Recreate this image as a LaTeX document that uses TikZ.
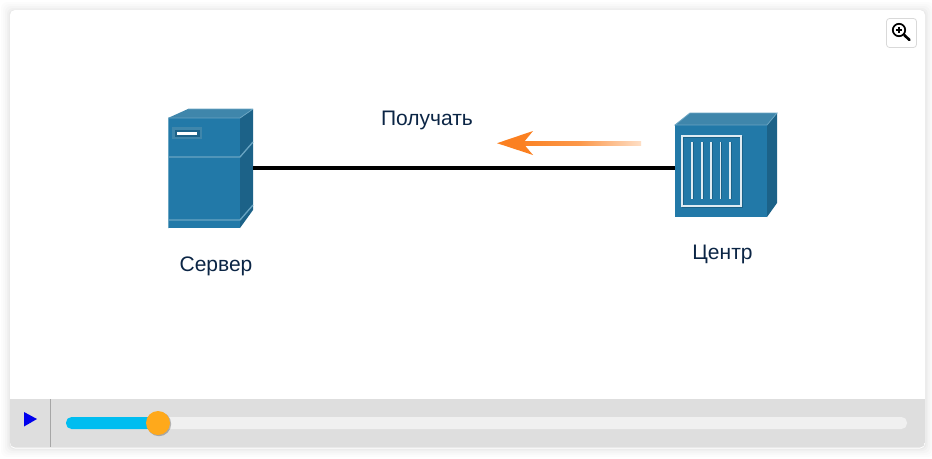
\documentclass[tikz,border=0pt]{standalone}
\usepackage{fontspec}
\setmainfont{Liberation Sans}
\usetikzlibrary{calc}
\definecolor{inkblue}{HTML}{0B2545}
\definecolor{front}{HTML}{2279A8}
\definecolor{topface}{HTML}{3F86AB}
\definecolor{sideface}{HTML}{1C6288}
\definecolor{edgelight}{HTML}{6AA5C3}
\definecolor{barbg}{HTML}{DEDEDE}
\definecolor{track}{HTML}{F0F0F0}
\definecolor{progress}{HTML}{00BDF0}
\definecolor{knob}{HTML}{FFA91B}
\definecolor{arroworange}{HTML}{FB8021}
\definecolor{arrowpale}{HTML}{FEDFC6}
\tikzset{
  x=1pt,y=-1pt,
  label text/.style={text=inkblue,font=\fontsize{21}{25}\selectfont,inner sep=0pt,anchor=center},
  link/.style={line width=3.6pt,black},
}
\begin{document}
\begin{tikzpicture}
\useasboundingbox (0,0) rectangle (932,458);
\fill[white] (0,0) rectangle (932,458);
% card shadow
\foreach \d/\o in {9/.01,7/.012,5/.015,3/.02,1.5/.022}{
  \fill[black,opacity=\o,rounded corners=6pt] ({10-\d},{10-\d+1}) rectangle ({925+\d},{448+\d});
}
% card
\fill[white,rounded corners=5pt] (10,10) rectangle (925,448.5);
\begin{scope}
\clip[rounded corners=5pt] (10,10) rectangle (925,447.5);
\fill[barbg] (10,399) rectangle (925,448);
\end{scope}
\draw[color=black!35,line width=1pt] (50.5,399) -- (50.5,447);
% zoom button
\draw[black!15,fill=white,line width=.8pt,rounded corners=3pt] (886.5,18.5) rectangle (916.5,47.5);
\draw[black,line width=1.7pt] (899,30) circle (6.2);
\draw[black,line width=2.6pt,line cap=round] (904.2,35) -- (909.5,40);
\draw[black,line width=1.6pt] (895.8,30) -- (902.2,30) (899,26.8) -- (899,33.2);
% server
\fill[topface] (168,118) -- (188,109) -- (253,109) -- (240,118) -- cycle;
\fill[sideface] (240,118) -- (253,109) -- (253,210) -- (240,228) -- cycle;
\fill[front] (168,118) rectangle (240,228);
\draw[edgelight,line width=.8pt] (168,118) -- (240,118) -- (253,109) (188,109) -- (253,109) (168.4,118) -- (168.4,228);
\draw[edgelight,line width=1.3pt] (168,157) -- (240,157) -- (253,142);
\draw[edgelight,line width=1.3pt] (168,220) -- (240,220) -- (253,205);
\fill[topface] (172,127) rectangle (202,139);
\fill[sideface] (175,130) rectangle (200,137);
\fill[white] (177,131.5) rectangle (197,135);
% hub
\fill[topface] (675,125) -- (690,113) -- (777,113) -- (767,125) -- cycle;
\fill[sideface] (767,125) -- (777,113) -- (777,203) -- (767,217) -- cycle;
\fill[front] (675,125) rectangle (767,217);
\draw[edgelight,line width=.8pt] (690,113) -- (777,113) -- (767,125) -- (675,125) -- (690,113);
\draw[sideface,line width=1.2pt] (683,137) rectangle (742,207);
\draw[white!85!front,line width=1.5pt] (682,136) rectangle (741,206);
\foreach \bx in {692,701.7,711,720.5,730}{
  \draw[sideface,line width=.8pt] (\bx+1.2,142) -- (\bx+1.2,199);
  \draw[white!85!front,line width=1.6pt] (\bx,142) -- (\bx,199);
}
% anchors and connector
\node[inner sep=0pt,minimum width=85pt,minimum height=119pt] (server) at (210.5,168) {};
\node[inner sep=0pt,minimum width=102pt,minimum height=104pt] (hub) at (726,165) {};
\coordinate (hubport) at (hub.west |- server.east);
\draw[link] (server.east) -- (hubport);
% labels
\node[label text] (srvlabel) at (216,266.5) {Сервер};
\node[label text] (hublabel) at (722.5,254.5) {Центр};
\node[label text] (recv) at (427,120.5) {Получать};
% arrow
\shade[left color=arroworange,right color=arrowpale,middle color=arroworange!75!arrowpale] (518,141) rectangle (641,145.5);
\fill[arroworange] (497,143.2) -- (533,131) -- (523,143.2) -- (533,155) -- cycle;
% controls
\fill[blue!93!black] (24,412) -- (37,419) -- (24,426.5) -- cycle;
\fill[track,rounded corners=5.5pt] (66,417) rectangle (907,429);
\fill[progress,rounded corners=5.5pt] (66,417) rectangle (160,429);
\fill[black,opacity=.25] (159,424) circle (12.2);
\fill[knob] (158,423) circle (12);
\end{tikzpicture}
\end{document}
